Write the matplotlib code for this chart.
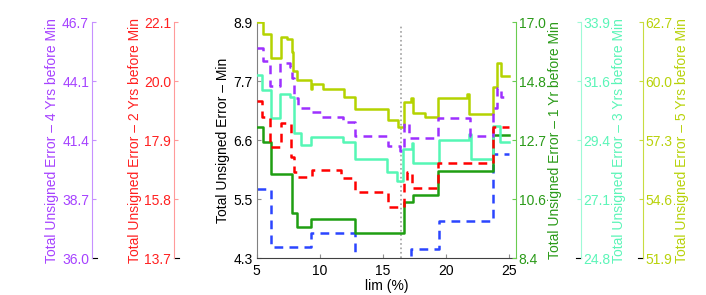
import matplotlib
matplotlib.use('Agg')
import matplotlib.pyplot as plt
import numpy as np

plt.rcParams['font.family'] = ['Liberation Sans', 'DejaVu Sans']
plt.rcParams['font.size'] = 10

# step series: lim (%) where each level starts, and the level
lim_min = [5.0, 6.11, 9.33, 12.79, 17.23, 19.45, 23.76, 25.0]
err_min = [5.645, 4.514, 4.787, 4.29, 4.48, 5.03, 6.33, 6.33]

lim_1yr = [5.0, 5.48, 6.13, 7.80, 8.22, 9.28, 12.79, 16.70, 17.37, 19.40, 23.76, 25.0]
err_1yr = [13.18, 12.64, 11.47, 10.04, 9.55, 9.82, 9.31, 10.46, 10.71, 11.59, 12.89, 12.89]

lim_2yr = [5.0, 5.45, 6.05, 6.90, 7.75, 7.95, 8.22, 9.36, 11.68, 12.79, 15.38,
           16.70, 16.90, 17.30, 19.40, 23.76, 25.0]
err_2yr = [19.31, 18.72, 17.67, 18.50, 17.30, 16.78, 16.60, 16.84, 16.55, 16.05, 15.54,
           16.49, 16.77, 16.21, 17.10, 18.38, 18.38]

lim_3yr = [5.0, 5.45, 6.11, 6.85, 7.64, 7.96, 8.49, 9.28, 11.84, 12.79, 15.30, 16.10,
           16.62, 17.28, 17.38, 19.45, 21.83, 21.97, 23.71, 24.29, 25.0]
err_3yr = [31.87, 31.29, 30.20, 31.14, 31.03, 29.62, 29.17, 29.47, 29.30, 28.63, 28.14, 27.79,
           29.00, 29.26, 28.46, 29.36, 29.58, 28.63, 29.90, 29.30, 29.30]

lim_4yr = [5.0, 5.48, 6.05, 6.85, 7.64, 7.80, 7.96, 8.27, 9.22, 10.18, 11.84, 12.79,
           15.38, 16.36, 16.67, 17.07, 19.40, 21.90, 23.76, 24.05, 24.37, 25.0]
err_4yr = [45.52, 44.95, 43.81, 44.84, 44.67, 44.17, 43.28, 42.80, 42.63, 42.41, 42.16, 41.55,
           41.09, 40.86, 42.13, 41.45, 42.35, 41.55, 42.81, 43.72, 43.33, 43.33]

lim_5yr = [5.0, 5.48, 6.13, 6.90, 7.38, 7.77, 7.90, 8.22, 9.28, 9.38, 10.23, 11.92, 12.79,
           15.38, 16.18, 16.70, 17.23, 17.37, 18.34, 19.40, 21.65, 21.85, 23.71, 24.07, 24.34, 25.0]
err_5yr = [62.70, 62.18, 61.07, 62.04, 61.94, 61.35, 60.48, 60.05, 59.63, 59.86, 59.63, 59.30, 58.72,
           58.23, 57.89, 59.07, 59.25, 58.54, 58.35, 59.22, 59.42, 58.49, 59.75, 60.85, 60.24, 60.24]

best_lim = 16.45

ticks_min = ['4.3', '5.5', '6.6', '7.7', '8.9']
ticks_1yr = ['8.4', '10.6', '12.7', '14.8', '17.0']
ticks_2yr = ['13.7', '15.8', '17.9', '20.0', '22.1']
ticks_3yr = ['24.8', '27.1', '29.4', '31.6', '33.9']
ticks_4yr = ['36.0', '38.7', '41.4', '44.1', '46.7']
ticks_5yr = ['51.9', '54.6', '57.3', '60.0', '62.7']
x_ticks = [5, 10, 15, 20, 25]


def set_ticks(a, labels):
    lo, hi = float(labels[0]), float(labels[-1])
    a.set_ylim(lo, hi)
    a.set_yticks(np.linspace(lo, hi, len(labels)))
    a.set_yticklabels(labels)


def add_axis(host, side, pos, color, spine_color, labels, ylabel, label_x):
    tw = host.twinx()
    for s in tw.spines.values():
        s.set_visible(False)
    sp = tw.spines[side]
    sp.set_visible(True)
    sp.set_position(('axes', pos))
    sp.set_color(spine_color)
    tw.yaxis.set_ticks_position(side)
    tw.yaxis.set_label_position(side)
    set_ticks(tw, labels)
    tw.tick_params(axis='y', direction='in', length=3, pad=2,
                   color=spine_color, labelcolor=color)
    tw.set_ylabel(ylabel, color=color)
    tw.yaxis.set_label_coords(label_x, 0.5)
    tw.yaxis.label.set_va('center')
    # little black stub left over from the hidden x axis
    dx = 0.02 if side == 'left' else -0.02
    if pos != 1.0:
        tw.plot([pos, pos + dx], [0, 0], color='black', lw=0.8,
                transform=tw.transAxes, clip_on=False)
    return tw


fig = plt.figure(figsize=(7.06, 2.95), dpi=100)
ax = fig.add_axes([0.3636, 0.1244, 0.3673, 0.8])
ax.set_xlim(5, 25.55)
ax.set_xticks(x_ticks)
set_ticks(ax, ticks_min)
ax.spines['top'].set_visible(False)
ax.spines['right'].set_visible(False)
ax.spines['left'].set_color('#808080')
ax.spines['bottom'].set_color('#404040')
ax.tick_params(direction='in', length=3, pad=3, color='#909090')
ax.tick_params(axis='x', pad=4)
ax.set_xlabel('lim (%)', labelpad=1)
ax.set_ylabel('Total Unsigned Error – Min')
ax.yaxis.set_label_coords(-0.131, 0.5)
ax.yaxis.label.set_va('center')

ax.axvline(best_lim, ymin=0, ymax=0.99, color='#a0a0a0', ls=':', lw=1.2)
ax.step(lim_min, err_min, where='post', color='#2b45ff', lw=1.8, ls=(0, (3.5, 2.5)))

ax1 = add_axis(ax, 'right', 1.0, '#2a9a18', '#6acc50', ticks_1yr,
               'Total Unsigned Error – 1 Yr before Min', 1.150)
ax3 = add_axis(ax, 'right', 1.2495, '#5cf5b8', '#9ffad6', ticks_3yr,
               'Total Unsigned Error – 3 Yrs before Min', 1.397)
ax5 = add_axis(ax, 'right', 1.4886, '#b8d20a', '#c8dc40', ticks_5yr,
               'Total Unsigned Error – 5 Yrs before Min', 1.639)
ax4 = add_axis(ax, 'left', -0.636, '#a642ff', '#c690ff', ticks_4yr,
               'Total Unsigned Error – 4 Yrs before Min', -0.789)
ax2 = add_axis(ax, 'left', -0.319, '#ff2020', '#ff9a9a', ticks_2yr,
               'Total Unsigned Error – 2 Yrs before Min', -0.469)

ax1.step(lim_1yr, err_1yr, where='post', color='#1f9e12', lw=1.8)
ax3.step(lim_3yr, err_3yr, where='post', color='#55f7b5', lw=1.8)
ax5.step(lim_5yr, err_5yr, where='post', color='#b4d300', lw=1.8)
ax4.step(lim_4yr, err_4yr, where='post', color='#9d30ff', lw=1.8, ls=(0, (3.5, 2.5)))
ax2.step(lim_2yr, err_2yr, where='post', color='#ff0000', lw=1.8, ls=(0, (3.5, 2.5)))

fig.savefig('out.png', dpi=100)
